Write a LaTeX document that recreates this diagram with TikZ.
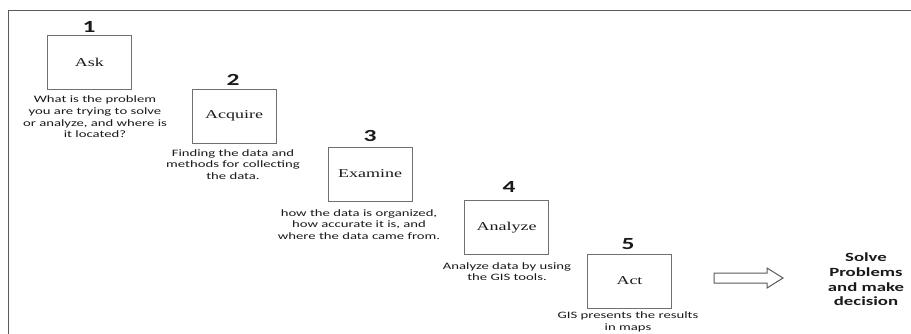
\documentclass[tikz,border=0pt]{standalone}
\usepackage{fontspec}
\newfontfamily\descfont[FakeStretch=1.5]{Carlito}
\newfontfamily\boxfont[FakeStretch=1.5]{Liberation Serif}
\definecolor{framegray}{HTML}{5A5A5A}
\definecolor{boxgray}{HTML}{707070}
\definecolor{txt}{HTML}{1A1A1A}
\begin{document}
\begin{tikzpicture}[x=1pt,y=-1pt,
  stepbox/.style={draw=boxgray, line width=0.9pt, minimum width=84pt, minimum height=54pt, inner sep=0pt,
    font=\boxfont\fontsize{12}{14}\selectfont, text=txt},
  numlabel/.style={inner sep=0pt, font=\descfont\fontsize{17}{19}\selectfont\bfseries, text=txt},
  desc/.style={inner sep=0pt, align=center, font=\descfont\fontsize{9.8}{11.6}\selectfont, text=txt},
  result/.style={inner sep=0pt, align=center, font=\descfont\fontsize{12.5}{14.7}\selectfont\bfseries, text=txt},
  blockarrow/.style={draw=framegray, fill=white, line width=1pt, line join=miter}]
\useasboundingbox (0,0) rectangle (911,334);
\fill[white] (0,0) rectangle (911,334);
\draw[framegray, line width=1.4pt] (8.5,334) -- (8.5,10.5) -- (911,10.5);

\node[stepbox] (ask) at (89.5,62) {Ask};
\node[stepbox] (acquire) at (234,116) {Acquire};
\node[stepbox] (examine) at (370,174) {Examine};
\node[stepbox] (analyze) at (506.5,227.5) {Analyze};
\node[stepbox] (act) at (629.5,281) {Act};

\node[numlabel] (n1) at (89,26.5) {1};
\node[numlabel] (n2) at (233,79.5) {2};
\node[numlabel] (n3) at (370,135.5) {3};
\node[numlabel] (n4) at (509,187) {4};
\node[numlabel] (n5) at (628,244) {5};

\node[desc] (d1) at (95,117) {What is the problem\\you are trying to solve\\or analyze, and where is\\it located?};
\node[desc] (d2) at (233,164.5) {Finding the data and\\methods for collecting\\the data.};
\node[desc] (d3) at (359,224.5) {how the data is organized,\\how accurate it is, and\\where the data came from.};
\node[desc] (d4) at (507,271.5) {Analyze data by using\\the GIS tools.};
\node[desc] (d5) at (628,322) {GIS presents the results\\in maps};

\node[result] (solve) at (866,279.5) {Solve\\Problems\\and make\\decision};

\coordinate (arr) at (714,278);
\draw[blockarrow] (arr) ++(0,-5) -- ++(53,0) -- ++(0,-5) -- ++(16,10) -- ++(-16,10) -- ++(0,-5) -- ++(-53,0) -- cycle;
\end{tikzpicture}
\end{document}
